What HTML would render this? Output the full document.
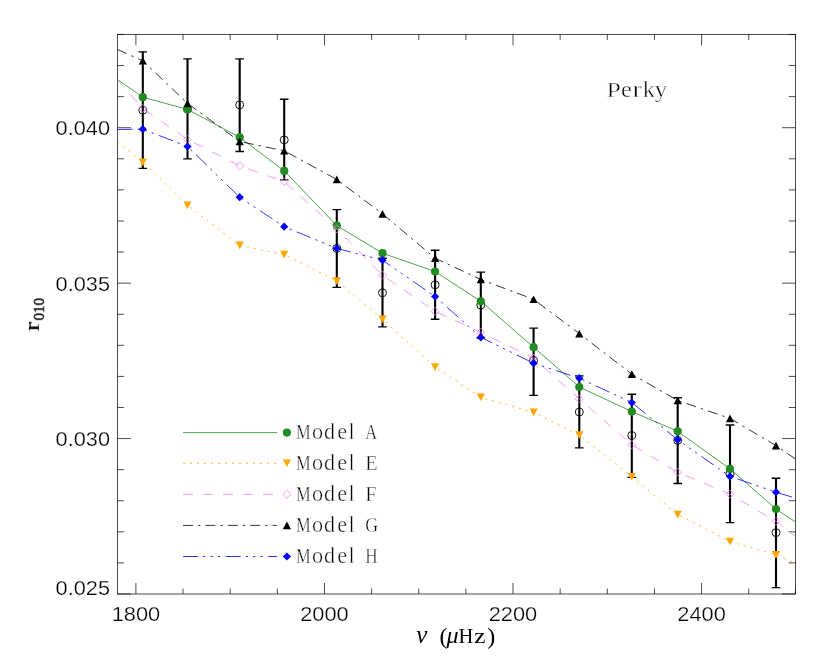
<!DOCTYPE html>
<html><head><meta charset="utf-8"><title>r010 vs nu - Perky</title>
<style>
html,body{margin:0;padding:0;background:#fff;}
body{width:830px;height:664px;overflow:hidden;font-family:"Liberation Sans",sans-serif;}
svg{display:block;}
.sans{font-family:"Liberation Sans",sans-serif;font-size:19.3px;fill:#000;stroke:#fff;stroke-width:0.25px;}
.serif{font-family:"Liberation Serif",serif;font-size:21.6px;fill:#000;stroke:#fff;stroke-width:0.45px;}
.ax{stroke:#000;stroke-width:0.7;fill:none;}
</style></head><body>
<svg width="830" height="664" viewBox="0 0 830 664">
<rect x="0" y="0" width="830" height="664" fill="#fff"/>
<defs><clipPath id="cp"><rect x="117.5" y="34.5" width="678.0" height="559.5"/></clipPath></defs>
<rect class="ax" x="117.45" y="34.45" width="678.00" height="559.55"/>
<path class="ax" d="M135.90 594.00V583.00M135.90 34.45V45.45M183.04 594.00V588.50M183.04 34.45V39.95M230.18 594.00V588.50M230.18 34.45V39.95M277.32 594.00V588.50M277.32 34.45V39.95M324.47 594.00V583.00M324.47 34.45V45.45M371.61 594.00V588.50M371.61 34.45V39.95M418.75 594.00V588.50M418.75 34.45V39.95M465.89 594.00V588.50M465.89 34.45V39.95M513.03 594.00V583.00M513.03 34.45V45.45M560.17 594.00V588.50M560.17 34.45V39.95M607.31 594.00V588.50M607.31 34.45V39.95M654.46 594.00V588.50M654.46 34.45V39.95M701.60 594.00V583.00M701.60 34.45V45.45M748.74 594.00V588.50M748.74 34.45V39.95M795.45 594.00V588.50M795.45 34.45V39.95M117.45 594.00H130.95M795.45 594.00H781.95M117.45 562.91H124.15M795.45 562.91H788.75M117.45 531.83H124.15M795.45 531.83H788.75M117.45 500.74H124.15M795.45 500.74H788.75M117.45 469.66H124.15M795.45 469.66H788.75M117.45 438.57H130.95M795.45 438.57H781.95M117.45 407.48H124.15M795.45 407.48H788.75M117.45 376.40H124.15M795.45 376.40H788.75M117.45 345.31H124.15M795.45 345.31H788.75M117.45 314.22H124.15M795.45 314.22H788.75M117.45 283.14H130.95M795.45 283.14H781.95M117.45 252.05H124.15M795.45 252.05H788.75M117.45 220.97H124.15M795.45 220.97H788.75M117.45 189.88H124.15M795.45 189.88H788.75M117.45 158.79H124.15M795.45 158.79H788.75M117.45 127.71H130.95M795.45 127.71H781.95M117.45 96.62H124.15M795.45 96.62H788.75M117.45 65.54H124.15M795.45 65.54H788.75M117.45 34.45H124.15M795.45 34.45H788.75"/>
<g clip-path="url(#cp)">
<path d="M142.8 51.8V168.4M187.5 58.9V158.9M239.7 58.9V151.5M284.2 99.2V179.9M336.8 209.6V287.3M382.5 258.2V326.9M435.1 250.2V319.2M480.8 272.1V338.0M533.6 328.1V395.3M579.3 375.9V447.8M631.8 394.2V477.3M677.7 397.7V483.5M730.0 425.0V522.6M776.0 478.2V587.6" stroke="#000" stroke-width="2.1" fill="none"/>
<path d="M138.5 51.8h8.6M138.5 168.4h8.6M183.2 58.9h8.6M183.2 158.9h8.6M235.4 58.9h8.6M235.4 151.5h8.6M279.9 99.2h8.6M279.9 179.9h8.6M332.5 209.6h8.6M332.5 287.3h8.6M378.2 258.2h8.6M378.2 326.9h8.6M430.8 250.2h8.6M430.8 319.2h8.6M476.5 272.1h8.6M476.5 338.0h8.6M529.3 328.1h8.6M529.3 395.3h8.6M575.0 375.9h8.6M575.0 447.8h8.6M627.5 394.2h8.6M627.5 477.3h8.6M673.4 397.7h8.6M673.4 483.5h8.6M725.7 425.0h8.6M725.7 522.6h8.6M771.7 478.2h8.6M771.7 587.6h8.6" stroke="#000" stroke-width="1.35" fill="none"/>
<circle cx="142.8" cy="110.2" r="4.0" fill="none" stroke="#000" stroke-width="0.9"/>
<circle cx="187.5" cy="109.0" r="4.0" fill="none" stroke="#000" stroke-width="0.9"/>
<circle cx="239.7" cy="104.9" r="4.0" fill="none" stroke="#000" stroke-width="0.9"/>
<circle cx="284.2" cy="139.9" r="4.0" fill="none" stroke="#000" stroke-width="0.9"/>
<circle cx="336.8" cy="248.4" r="4.0" fill="none" stroke="#000" stroke-width="0.9"/>
<circle cx="382.5" cy="292.8" r="4.0" fill="none" stroke="#000" stroke-width="0.9"/>
<circle cx="435.1" cy="284.8" r="4.0" fill="none" stroke="#000" stroke-width="0.9"/>
<circle cx="480.8" cy="305.0" r="4.0" fill="none" stroke="#000" stroke-width="0.9"/>
<circle cx="533.6" cy="360.7" r="4.0" fill="none" stroke="#000" stroke-width="0.9"/>
<circle cx="579.3" cy="412.0" r="4.0" fill="none" stroke="#000" stroke-width="0.9"/>
<circle cx="631.8" cy="435.5" r="4.0" fill="none" stroke="#000" stroke-width="0.9"/>
<circle cx="677.7" cy="440.4" r="4.0" fill="none" stroke="#000" stroke-width="0.9"/>
<circle cx="730.0" cy="473.9" r="4.0" fill="none" stroke="#000" stroke-width="0.9"/>
<circle cx="776.0" cy="532.6" r="4.0" fill="none" stroke="#000" stroke-width="0.9"/>
<polyline points="117.5,79.6 142.8,97.2 187.5,109.4 239.7,137.3 284.2,170.9 336.8,225.6 382.5,253.2 435.1,271.5 480.8,301.3 533.6,347.2 579.3,387.0 631.8,411.6 677.7,431.3 730.0,468.9 776.0,509.0 795.5,522.0" fill="none" stroke="#228B22" stroke-width="0.8"/>
<circle cx="142.8" cy="97.2" r="4.1" fill="#228B22"/>
<circle cx="187.5" cy="109.4" r="4.1" fill="#228B22"/>
<circle cx="239.7" cy="137.3" r="4.1" fill="#228B22"/>
<circle cx="284.2" cy="170.9" r="4.1" fill="#228B22"/>
<circle cx="336.8" cy="225.6" r="4.1" fill="#228B22"/>
<circle cx="382.5" cy="253.2" r="4.1" fill="#228B22"/>
<circle cx="435.1" cy="271.5" r="4.1" fill="#228B22"/>
<circle cx="480.8" cy="301.3" r="4.1" fill="#228B22"/>
<circle cx="533.6" cy="347.2" r="4.1" fill="#228B22"/>
<circle cx="579.3" cy="387.0" r="4.1" fill="#228B22"/>
<circle cx="631.8" cy="411.6" r="4.1" fill="#228B22"/>
<circle cx="677.7" cy="431.3" r="4.1" fill="#228B22"/>
<circle cx="730.0" cy="468.9" r="4.1" fill="#228B22"/>
<circle cx="776.0" cy="509.0" r="4.1" fill="#228B22"/>
<polyline points="117.5,141.5 142.8,162.3 187.5,205.2 239.7,245.4 284.2,254.6 336.8,281.0 382.5,319.3 435.1,367.0 480.8,397.3 533.6,412.4 579.3,435.0 631.8,476.8 677.7,514.5 730.0,541.6 776.0,554.9 795.5,563.4" fill="none" stroke="#FFA500" stroke-width="0.85" stroke-dasharray="2 5"/>
<path d="M142.8 166.2L146.9 158.5L138.7 158.5ZM187.5 209.1L191.6 201.4L183.4 201.4ZM239.7 249.3L243.8 241.6L235.6 241.6ZM284.2 258.5L288.3 250.8L280.1 250.8ZM336.8 284.9L340.9 277.2L332.7 277.2ZM382.5 323.2L386.6 315.5L378.4 315.5ZM435.1 370.9L439.2 363.2L431.0 363.2ZM480.8 401.2L484.9 393.5L476.7 393.5ZM533.6 416.3L537.7 408.6L529.5 408.6ZM579.3 438.9L583.4 431.2L575.2 431.2ZM631.8 480.7L635.9 473.0L627.7 473.0ZM677.7 518.4L681.8 510.7L673.6 510.7ZM730.0 545.5L734.1 537.8L725.9 537.8ZM776.0 558.8L780.1 551.1L771.9 551.1Z" fill="#FFA500"/>
<polyline points="117.5,80.0 142.8,108.5 187.5,139.5 239.7,165.8 284.2,181.6 336.8,228.9 382.5,275.2 435.1,311.3 480.8,332.4 533.6,358.2 579.3,398.9 631.8,444.7 677.7,472.2 730.0,494.2 776.0,521.3 795.5,536.7" fill="none" stroke="#EE82EE" stroke-width="0.8" stroke-dasharray="10 10"/>
<path d="M142.8 104.5L146.8 108.5L142.8 112.5L138.8 108.5ZM187.5 135.5L191.5 139.5L187.5 143.5L183.5 139.5ZM239.7 161.8L243.7 165.8L239.7 169.8L235.7 165.8ZM284.2 177.6L288.2 181.6L284.2 185.6L280.2 181.6ZM336.8 224.9L340.8 228.9L336.8 232.9L332.8 228.9ZM382.5 271.2L386.5 275.2L382.5 279.2L378.5 275.2ZM435.1 307.3L439.1 311.3L435.1 315.3L431.1 311.3ZM480.8 328.4L484.8 332.4L480.8 336.4L476.8 332.4ZM533.6 354.2L537.6 358.2L533.6 362.2L529.6 358.2ZM579.3 394.9L583.3 398.9L579.3 402.9L575.3 398.9ZM631.8 440.7L635.8 444.7L631.8 448.7L627.8 444.7ZM677.7 468.2L681.7 472.2L677.7 476.2L673.7 472.2ZM730.0 490.2L734.0 494.2L730.0 498.2L726.0 494.2ZM776.0 517.3L780.0 521.3L776.0 525.3L772.0 521.3Z" fill="none" stroke="#EE82EE" stroke-width="0.8"/>
<polyline points="117.5,49.5 142.8,60.8 187.5,103.4 239.7,141.5 284.2,150.8 336.8,179.5 382.5,213.9 435.1,258.2 480.8,279.5 533.6,299.3 579.3,333.6 631.8,374.1 677.7,400.5 730.0,418.4 776.0,445.6 795.5,459.0" fill="none" stroke="#000" stroke-width="0.8" stroke-dasharray="10.1 5.05 2.4 5.05"/>
<path d="M142.8 56.9L146.9 64.6L138.7 64.6ZM187.5 99.5L191.6 107.2L183.4 107.2ZM239.7 137.6L243.8 145.3L235.6 145.3ZM284.2 146.9L288.3 154.6L280.1 154.6ZM336.8 175.6L340.9 183.3L332.7 183.3ZM382.5 210.0L386.6 217.7L378.4 217.7ZM435.1 254.3L439.2 262.0L431.0 262.0ZM480.8 275.6L484.9 283.3L476.7 283.3ZM533.6 295.4L537.7 303.1L529.5 303.1ZM579.3 329.7L583.4 337.4L575.2 337.4ZM631.8 370.2L635.9 377.9L627.7 377.9ZM677.7 396.6L681.8 404.3L673.6 404.3ZM730.0 414.5L734.1 422.2L725.9 422.2ZM776.0 441.7L780.1 449.4L771.9 449.4Z" fill="#000"/>
<polyline points="117.5,129.5 142.8,129.2 187.5,146.5 239.7,197.2 284.2,226.7 336.8,248.4 382.5,260.2 435.1,296.5 480.8,337.3 533.6,363.2 579.3,378.2 631.8,402.5 677.7,439.8 730.0,476.4 776.0,492.2 795.5,498.1" fill="none" stroke="#0000FF" stroke-width="0.8" stroke-dasharray="15 5 2.4 5 2.4 5 2.4 5.4"/>
<path d="M142.8 125.1L146.9 129.2L142.8 133.3L138.7 129.2ZM187.5 142.4L191.6 146.5L187.5 150.6L183.4 146.5ZM239.7 193.1L243.8 197.2L239.7 201.3L235.6 197.2ZM284.2 222.6L288.3 226.7L284.2 230.8L280.1 226.7ZM336.8 244.3L340.9 248.4L336.8 252.5L332.7 248.4ZM382.5 256.1L386.6 260.2L382.5 264.3L378.4 260.2ZM435.1 292.4L439.2 296.5L435.1 300.6L431.0 296.5ZM480.8 333.2L484.9 337.3L480.8 341.4L476.7 337.3ZM533.6 359.1L537.7 363.2L533.6 367.3L529.5 363.2ZM579.3 374.1L583.4 378.2L579.3 382.3L575.2 378.2ZM631.8 398.4L635.9 402.5L631.8 406.6L627.7 402.5ZM677.7 435.7L681.8 439.8L677.7 443.9L673.6 439.8ZM730.0 472.3L734.1 476.4L730.0 480.5L725.9 476.4ZM776.0 488.1L780.1 492.2L776.0 496.3L771.9 492.2Z" fill="#0000FF"/>
</g>
<line x1="183.0" y1="432.6" x2="277.0" y2="432.6" stroke="#228B22" stroke-width="0.8"/>
<circle cx="286.9" cy="432.6" r="4.1" fill="#228B22"/>
<line x1="183.0" y1="463.2" x2="277.0" y2="463.2" stroke="#FFA500" stroke-width="0.85" stroke-dasharray="2 5"/>
<path d="M286.9 467.1L291.0 459.4L282.8 459.4Z" fill="#FFA500"/>
<line x1="183.0" y1="494.3" x2="277.0" y2="494.3" stroke="#EE82EE" stroke-width="0.8" stroke-dasharray="10 10"/>
<path d="M286.9 490.3L290.9 494.3L286.9 498.3L282.9 494.3Z" fill="none" stroke="#EE82EE" stroke-width="0.8"/>
<line x1="183.0" y1="525.4" x2="277.0" y2="525.4" stroke="#000" stroke-width="0.8" stroke-dasharray="10 5 2.4 5"/>
<path d="M286.9 521.5L291.0 529.2L282.8 529.2Z" fill="#000"/>
<line x1="183.0" y1="556.5" x2="277.0" y2="556.5" stroke="#0000FF" stroke-width="0.8" stroke-dasharray="15 5 2.4 5 2.4 5 2.4 5.4"/>
<path d="M286.9 552.4L291.0 556.5L286.9 560.6L282.8 556.5Z" fill="#0000FF"/>
<g style="filter:grayscale(1)">
<text class="serif" style="font-size:21.2px" transform="translate(296.0,439.0) scale(0.78,1)">M</text>
<text class="serif" style="font-size:22.2px" x="311.9 323.9 337.2 348.6" y="439.0">odel</text>
<text class="serif" style="font-size:21.2px" transform="translate(365.2,439.0) scale(0.77,1)">A</text>
<text class="serif" style="font-size:21.2px" transform="translate(296.0,469.6) scale(0.78,1)">M</text>
<text class="serif" style="font-size:22.2px" x="311.9 323.9 337.2 348.6" y="469.6">odel</text>
<text class="serif" style="font-size:21.2px" transform="translate(365.2,469.6) scale(0.95,1)">E</text>
<text class="serif" style="font-size:21.2px" transform="translate(296.0,500.7) scale(0.78,1)">M</text>
<text class="serif" style="font-size:22.2px" x="311.9 323.9 337.2 348.6" y="500.7">odel</text>
<text class="serif" style="font-size:21.2px" transform="translate(365.2,500.7) scale(0.97,1)">F</text>
<text class="serif" style="font-size:21.2px" transform="translate(296.0,531.8) scale(0.78,1)">M</text>
<text class="serif" style="font-size:22.2px" x="311.9 323.9 337.2 348.6" y="531.8">odel</text>
<text class="serif" style="font-size:21.2px" transform="translate(365.2,531.8) scale(0.84,1)">G</text>
<text class="serif" style="font-size:21.2px" transform="translate(296.0,562.9) scale(0.78,1)">M</text>
<text class="serif" style="font-size:22.2px" x="311.9 323.9 337.2 348.6" y="562.9">odel</text>
<text class="serif" style="font-size:21.2px" transform="translate(365.2,562.9) scale(0.81,1)">H</text>
<text class="serif" style="font-size:21.2px" transform="translate(606.6,96.7) scale(1.22,1)">P</text>
<text class="serif" style="font-size:22.2px" transform="translate(620.9,96.7) scale(1.10,1)">e</text>
<text class="serif" style="font-size:22.2px" transform="translate(632.5,96.7) scale(1.28,1)">r</text>
<text class="serif" style="font-size:22.2px" transform="translate(642.7,96.7) scale(1.10,1)">k</text>
<text class="serif" style="font-size:22.2px" transform="translate(654.7,96.7) scale(1.12,1)">y</text>
<text class="sans" x="55.6" y="135.3" textLength="54.5" lengthAdjust="spacingAndGlyphs">0.040</text>
<text class="sans" x="55.6" y="290.7" textLength="54.5" lengthAdjust="spacingAndGlyphs">0.035</text>
<text class="sans" x="55.6" y="446.2" textLength="54.5" lengthAdjust="spacingAndGlyphs">0.030</text>
<text class="sans" x="55.6" y="594.8" textLength="54.5" lengthAdjust="spacingAndGlyphs">0.025</text>
<text class="sans" x="135.9" y="621" textLength="48.5" lengthAdjust="spacingAndGlyphs" text-anchor="middle">1800</text>
<text class="sans" x="324.5" y="621" textLength="48.5" lengthAdjust="spacingAndGlyphs" text-anchor="middle">2000</text>
<text class="sans" x="513.0" y="621" textLength="48.5" lengthAdjust="spacingAndGlyphs" text-anchor="middle">2200</text>
<text class="sans" x="701.6" y="621" textLength="48.5" lengthAdjust="spacingAndGlyphs" text-anchor="middle">2400</text>
<text class="serif" style="font-size:20.5px;stroke:none" y="643.2"><tspan x="416.2" font-style="italic" style="font-size:25px">ν</tspan><tspan x="439.6" y="643.6" style="font-size:24px">(</tspan><tspan x="446.6" y="643.2" font-style="italic" style="font-size:24px">μ</tspan><tspan x="458.5">H</tspan><tspan x="474.2" textLength="11.2" lengthAdjust="spacingAndGlyphs">z</tspan><tspan x="487.3" y="643.6" style="font-size:24px">)</tspan></text>
<g transform="translate(38.9,331.2) rotate(-90)"><text class="serif" style="font-size:21px;stroke:#000;stroke-width:0.25px" transform="scale(1.33,1)" x="0" y="0">r</text><text class="serif" style="font-size:14.8px;stroke:#000;stroke-width:0.45px" x="10.8" y="4.9" textLength="22.4" lengthAdjust="spacing">010</text></g>
</g>
</svg></body></html>
